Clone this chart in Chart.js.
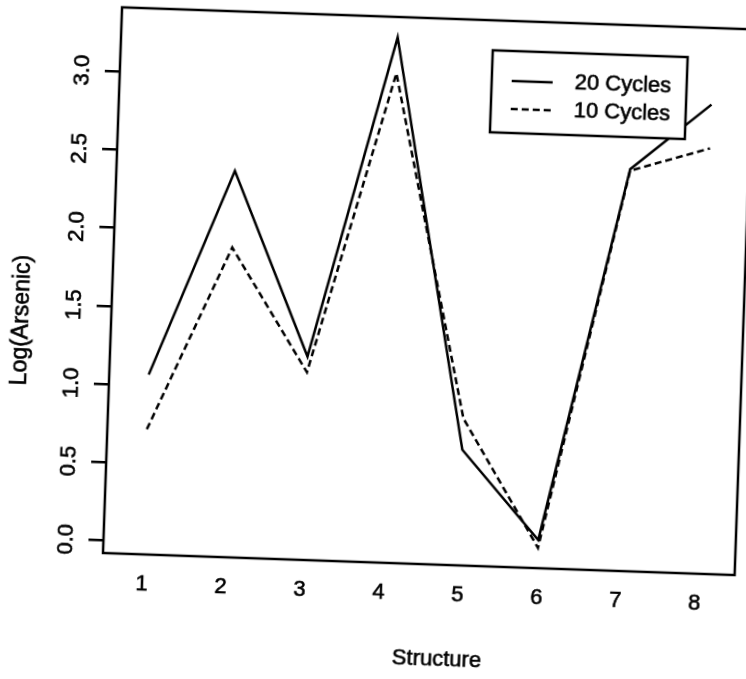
<!DOCTYPE html>
<html>
<head>
<meta charset="utf-8">
<title>Log(Arsenic) by Structure</title>
<script src="https://cdn.jsdelivr.net/npm/chart.js@4.4.1/dist/chart.umd.min.js"></script>
<style>
    html, body { margin: 0; padding: 0; background: #fff; overflow: hidden; }
    /* the printed page sits slightly askew */
    #wrap {
        position: absolute; left: 0; top: 0; width: 746px; height: 679px;
        transform: rotate(2deg); transform-origin: 103px 553px;
    }
</style>
</head>
<body>
<div id="wrap"><canvas id="arsenicChart" width="746" height="679"></canvas></div>
<script>
// Data
const structures = ['1', '2', '3', '4', '5', '6', '7', '8'];
const twentyCycles = [1.07, 2.39, 1.22, 3.28, 0.66, 0.10, 2.49, 2.92];
const tenCycles = [0.72, 1.90, 1.12, 3.05, 0.86, 0.05, 2.48, 2.64];
const seriesLabels = ['20 Cycles', '10 Cycles'];
const yTicks = [0, 0.5, 1, 1.5, 2, 2.5, 3];
const xTitle = 'Structure';
const yTitle = 'Log(Arsenic)';

const FONT = { family: '"Liberation Sans", Arial, Helvetica, sans-serif', size: 22 };
const INK = '#000';
const TEXT_STROKE = 0.6; // toner spread makes the print look a touch heavier

function inkText(ctx, text, x, y) {
    ctx.fillText(text, x, y);
    ctx.lineWidth = TEXT_STROKE;
    ctx.strokeText(text, x, y);
}

// Box round the plotting region
const frame = {
    id: 'frame',
    afterDraw(chart) {
        const { ctx, chartArea: a } = chart;
        ctx.save();
        ctx.lineWidth = 2.5;
        ctx.strokeStyle = INK;
        ctx.strokeRect(a.left, a.top, a.right - a.left, a.bottom - a.top);
        ctx.restore();
    }
};

// Boxed legend inside the top right of the plot
const legendBox = {
    id: 'legendBox',
    afterDraw(chart, args, opts) {
        const { ctx, chartArea } = chart;
        const right = chartArea.right - opts.marginRight;
        const left = right - opts.width;
        const top = chartArea.top + opts.marginTop;

        ctx.save();
        ctx.fillStyle = '#fff';
        ctx.fillRect(left, top, opts.width, opts.height);
        ctx.lineWidth = 2.5;
        ctx.strokeStyle = INK;
        ctx.strokeRect(left, top, opts.width, opts.height);

        ctx.font = `${FONT.size}px ${FONT.family}`;
        ctx.fillStyle = INK;
        ctx.textBaseline = 'middle';
        ctx.textAlign = 'left';
        chart.data.datasets.forEach((ds, i) => {
            const y = top + opts.firstRow + i * opts.rowGap;
            const x0 = left + opts.sampleInset;
            ctx.setLineDash(ds.borderDash || []);
            ctx.lineWidth = ds.borderWidth;
            ctx.beginPath();
            ctx.moveTo(x0, y);
            ctx.lineTo(x0 + opts.sampleLength, y);
            ctx.stroke();
            ctx.setLineDash([]);
            inkText(ctx, ds.label, x0 + opts.sampleLength + opts.textGap, y);
        });
        ctx.restore();
    }
};

// Axis titles
const axisTitles = {
    id: 'axisTitles',
    afterDraw(chart, args, opts) {
        const { ctx, chartArea } = chart;
        ctx.save();
        ctx.font = `${FONT.size}px ${FONT.family}`;
        ctx.fillStyle = INK;
        ctx.strokeStyle = INK;
        ctx.textAlign = 'center';
        ctx.textBaseline = 'middle';
        inkText(ctx, opts.x.text, chartArea.left + opts.x.dx, chartArea.bottom + opts.x.dy);
        ctx.translate(chartArea.left + opts.y.dx, chartArea.top + opts.y.dy);
        ctx.rotate(-Math.PI / 2);
        ctx.font = `${opts.y.size}px ${FONT.family}`;
        inkText(ctx, opts.y.text, 0, 0);
        ctx.restore();
    }
};

const ctx = document.getElementById('arsenicChart').getContext('2d');
new Chart(ctx, {
    type: 'line',
    data: {
        labels: structures,
        datasets: [
            {
                label: seriesLabels[0],
                data: twentyCycles,
                borderColor: INK,
                borderWidth: 2.5,
                pointRadius: 0,
                tension: 0,
                fill: false
            },
            {
                label: seriesLabels[1],
                data: tenCycles,
                borderColor: INK,
                borderWidth: 2.5,
                borderDash: [7, 4],
                pointRadius: 0,
                tension: 0,
                fill: false
            }
        ]
    },
    options: {
        responsive: false,
        animation: false,
        devicePixelRatio: 1,
        layout: { padding: { left: 0, top: 7, right: 11, bottom: 0 } },
        plugins: {
            legend: { display: false },
            tooltip: { enabled: false },
            legendBox: {
                marginRight: 65, marginTop: 30, width: 195, height: 82,
                firstRow: 30, rowGap: 28, sampleInset: 20, sampleLength: 41, textGap: 22
            },
            axisTitles: {
                x: { text: xTitle, dx: 337, dy: 95 },
                y: { text: yTitle, dx: -89, dy: 316, size: 23 }
            }
        },
        scales: {
            x: {
                type: 'category',
                offset: true,
                grid: { display: false, drawTicks: false },
                border: { display: false },
                ticks: {
                    color: INK,
                    font: FONT,
                    padding: 17,
                    maxRotation: 0,
                    textStrokeColor: INK,
                    textStrokeWidth: TEXT_STROKE
                },
                afterFit(scale) {
                    scale.height = 126;
                    scale.paddingLeft = 0;
                    scale.paddingRight = 0;
                }
            },
            y: {
                type: 'linear',
                min: -0.08,
                max: 3.41,
                grid: {
                    drawOnChartArea: false,
                    drawTicks: true,
                    tickLength: 15,
                    tickColor: INK,
                    tickWidth: 2.5,
                    color: INK,
                    lineWidth: 2.5
                },
                border: { display: false },
                afterBuildTicks(scale) {
                    scale.ticks = yTicks.map(v => ({ value: v }));
                },
                ticks: {
                    color: INK,
                    font: FONT,
                    minRotation: 90,
                    maxRotation: 90,
                    crossAlign: 'center',
                    padding: 7,
                    textStrokeColor: INK,
                    textStrokeWidth: TEXT_STROKE,
                    callback: value => Number(value).toFixed(1)
                },
                afterFit(scale) {
                    scale.width = 103;
                    scale.paddingTop = 0;
                    scale.paddingBottom = 0;
                }
            }
        }
    },
    plugins: [frame, legendBox, axisTitles]
});
</script>
</body>
</html>
